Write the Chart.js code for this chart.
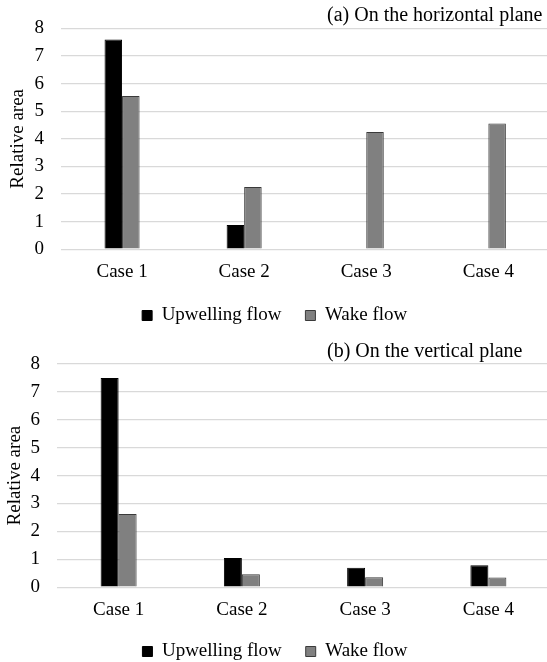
<!DOCTYPE html>
<html><head><meta charset="utf-8">
<script src="https://cdn.jsdelivr.net/npm/chart.js@4.4.0/dist/chart.umd.min.js"></script>
<style>
html,body{margin:0;padding:0;background:#fff;overflow:hidden;width:547px;height:662px;}
#wa{position:absolute;left:0;top:0;width:552px;height:335px;}
#wb{position:absolute;left:0;top:330px;width:552px;height:341px;}
</style></head><body>
<div id="wa"><canvas id="ca"></canvas></div>
<div id="wb"><canvas id="cb"></canvas></div>
<script>
const categories = ['Case 1', 'Case 2', 'Case 3', 'Case 4'];
const seriesNames = ['Upwelling flow', 'Wake flow'];
const horizUpwelling = [7.6, 0.88, 0, 0];
const horizWake = [5.55, 2.25, 4.25, 4.55];
const vertUpwelling = [7.5, 1.05, 0.70, 0.79];
const vertWake = [2.62, 0.46, 0.36, 0.35];
const yMin = 0, yMax = 8, yStep = 1;
const yTitle = 'Relative area';
const titles = ['(a) On the horizontal plane', '(b) On the vertical plane'];

const FONT = "'Liberation Serif', 'Times New Roman', serif";
Chart.defaults.font.family = FONT;
Chart.defaults.color = '#000';

const cornerTitle = {
  id: 'cornerTitle',
  afterDraw(chart, args, opts) {
    const ctx = chart.ctx;
    ctx.save();
    ctx.font = '20px ' + FONT;
    ctx.fillStyle = '#000';
    ctx.textAlign = 'left';
    ctx.textBaseline = 'middle';
    ctx.fillText(opts.text, opts.x, opts.y);
    ctx.restore();
  }
};

function makeChart(id, up, wake, cfg) {
  return new Chart(document.getElementById(id), {
    type: 'bar',
    data: {
      labels: categories,
      datasets: [
        { label: seriesNames[0], data: up, backgroundColor: '#000000', borderColor: '#000000', borderWidth: 1,
          categoryPercentage: cfg.catPct, barPercentage: 1 },
        { label: seriesNames[1], data: wake, backgroundColor: '#808080', borderColor: '#3a3a3a', borderWidth: 1,
          categoryPercentage: cfg.catPct, barPercentage: 1 }
      ]
    },
    plugins: [cornerTitle],
    options: {
      responsive: true,
      maintainAspectRatio: false,
      animation: false,
      devicePixelRatio: 1,
      layout: { padding: { top: cfg.top, right: cfg.right, left: 0, bottom: 0 } },
      plugins: {
        tooltip: { enabled: false },
        title: { display: false },
        cornerTitle: { text: cfg.title, x: 327, y: cfg.titleY },
        legend: {
          position: 'bottom',
          labels: { font: { size: 19 }, boxWidth: 10, boxHeight: 10, padding: 24, color: '#000' }
        }
      },
      scales: {
        x: {
          grid: { display: false, drawTicks: false },
          border: { display: false },
          ticks: { font: { size: 19 }, padding: cfg.xPad, color: '#000', maxRotation: 0 },
          afterFit: s => { s.height = cfg.xH; }
        },
        y: {
          min: yMin, max: yMax,
          ticks: { stepSize: yStep, font: { size: 19 }, padding: cfg.yPad, color: '#000' },
          grid: { color: '#d9d9d9', lineWidth: 1.3, drawTicks: false },
          border: { display: false },
          title: { display: true, text: yTitle, font: { size: 19 }, color: '#000', padding: { top: cfg.tPad, bottom: 0 } },
          afterFit: s => { s.width = cfg.yW; }
        }
      }
    }
  });
}

makeChart('ca', horizUpwelling, horizWake, {
  catPct: 0.287, top: 28, right: 2.6, xPad: 11.6, xH: 32.8, yPad: 17, yW: 61, tPad: 7,
  title: titles[0], titleY: 16
});
makeChart('cb', vertUpwelling, vertWake, {
  catPct: 0.292, top: 34, right: 2, xPad: 11.9, xH: 30.8, yPad: 17, yW: 57, tPad: 3.6,
  title: titles[1], titleY: 21.7
});
</script>
</body></html>
